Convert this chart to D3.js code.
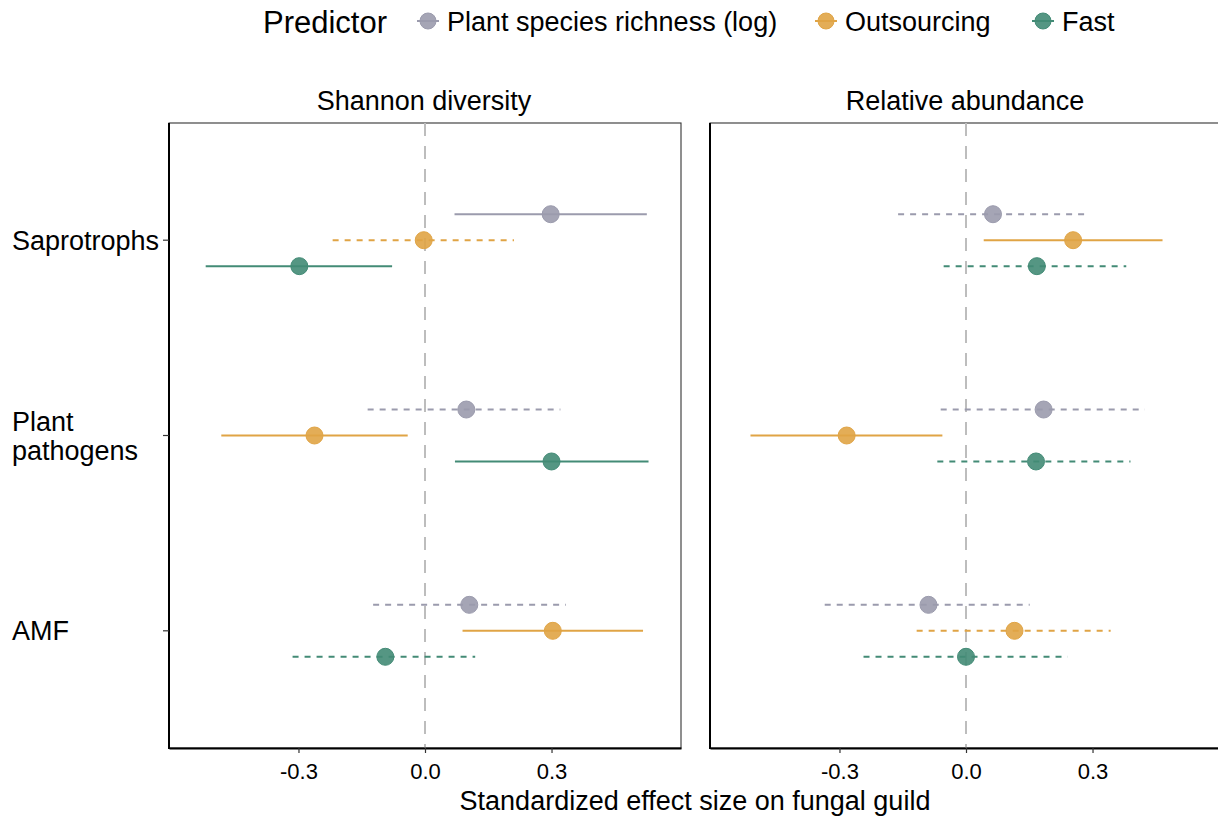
<!DOCTYPE html>
<html>
<head>
<meta charset="utf-8">
<script src="https://cdn.jsdelivr.net/npm/d3@7"></script>
<style>
  body { margin: 0; background: #fff; }
  text { font-family: "Liberation Sans", Arial, sans-serif; fill: #000; }
</style>
</head>
<body>
<script>
// data
var guilds = ["Saprotrophs", "Plant pathogens", "AMF"];
var predictors = ["Plant species richness (log)", "Outsourcing", "Fast"];
var facets = ["Shannon diversity", "Relative abundance"];
var colors = ["#9b9bad", "#e0a445", "#438b76"];
var xTicks = [-0.3, 0.0, 0.3];

// rows = guild, cols = predictor
var shannonEst = [[0.298, -0.003, -0.298], [0.098, -0.262, 0.300], [0.105, 0.303, -0.094]];
var shannonLo  = [[0.070, -0.219, -0.520], [-0.136, -0.483, 0.071], [-0.123, 0.089, -0.314]];
var shannonHi  = [[0.526, 0.211, -0.078], [0.321, -0.041, 0.530], [0.334, 0.517, 0.119]];
var shannonSig = [[1, 0, 1], [0, 1, 1], [0, 1, 0]];

var abundEst = [[0.064, 0.254, 0.168], [0.184, -0.283, 0.166], [-0.089, 0.115, 0.000]];
var abundLo  = [[-0.161, 0.042, -0.053], [-0.060, -0.511, -0.068], [-0.335, -0.117, -0.243]];
var abundHi  = [[0.287, 0.466, 0.380], [0.424, -0.056, 0.390], [0.151, 0.343, 0.241]];
var abundSig = [[0, 1, 0], [0, 1, 0], [0, 0, 0]];

var svgWidth = 1218;
var svgHeight = 818;
var plotTop = 123, plotBottom = 748;
var panelW = 512;
var panelX = [169, 710];

var svg = d3.select("body")
    .append("svg")
    .attr("width", svgWidth)
    .attr("height", svgHeight);

// y scale shared by both panels
var yScale = d3.scalePoint()
    .domain(guilds)
    .range([plotTop, plotBottom])
    .padding(0.6);
var dodge = yScale.step() * 0.133;
var yDodge = d3.scalePoint()
    .domain(predictors)
    .range([-dodge, dodge]);

function buildRows(est, lo, hi, sig) {
    var rows = [];
    guilds.forEach(function(g, i) {
        predictors.forEach(function(p, j) {
            rows.push({ guild: g, pred: p, k: j, est: est[i][j], lo: lo[i][j], hi: hi[i][j], sig: sig[i][j] });
        });
    });
    return rows;
}

var panelData = [
    buildRows(shannonEst, shannonLo, shannonHi, shannonSig),
    buildRows(abundEst, abundLo, abundHi, abundSig)
];

facets.forEach(function(title, f) {
    var x0 = panelX[f];
    var xScale = d3.scaleLinear()
        .domain([-0.607, 0.607])
        .range([x0, x0 + panelW]);

    var g = svg.append("g").attr("class", "panel");

    // panel border
    g.append("rect")
        .attr("x", x0).attr("y", plotTop)
        .attr("width", panelW).attr("height", plotBottom - plotTop)
        .attr("fill", "none")
        .attr("stroke", "#333")
        .attr("stroke-width", 1.1);

    // zero line
    g.append("line")
        .attr("x1", xScale(0)).attr("x2", xScale(0))
        .attr("y1", plotTop).attr("y2", plotBottom)
        .attr("stroke", "#bdbdbd")
        .attr("stroke-width", 2)
        .attr("stroke-dasharray", "13,10");

    // x axis
    var xAxis = d3.axisBottom(xScale)
        .tickValues(xTicks)
        .tickSize(5)
        .tickSizeOuter(0);
    var ax = g.append("g")
        .attr("class", "x-axis")
        .attr("transform", `translate(0,${plotBottom})`)
        .call(xAxis);
    ax.select(".domain").attr("stroke", "#000").attr("stroke-width", 2);
    ax.selectAll(".tick line").attr("stroke", "#333").attr("stroke-width", 1.2);
    ax.selectAll(".tick text")
        .attr("font-size", 22)
        .attr("dy", "1.05em")
        .attr("fill", "#1a1a1a")
        .text(function(d) { return d3.format(".1f")(d).replace("−", "-"); });

    // left axis line
    g.append("line")
        .attr("x1", x0).attr("x2", x0)
        .attr("y1", plotTop).attr("y2", plotBottom + 1)
        .attr("stroke", "#000")
        .attr("stroke-width", 2);

    // facet title
    g.append("text")
        .attr("x", x0 + panelW / 2 - 1)
        .attr("y", 110)
        .attr("text-anchor", "middle")
        .attr("font-size", 27)
        .attr("fill", "#1a1a1a")
        .text(title);

    // error bars
    g.selectAll(".ci")
        .data(panelData[f])
        .enter()
        .append("line")
        .attr("class", "ci")
        .attr("x1", function(d) { return xScale(d.lo); })
        .attr("x2", function(d) { return xScale(d.hi); })
        .attr("y1", function(d) { return yScale(d.guild) + yDodge(d.pred); })
        .attr("y2", function(d) { return yScale(d.guild) + yDodge(d.pred); })
        .attr("stroke", function(d) { return colors[d.k]; })
        .attr("stroke-width", 2)
        .attr("stroke-dasharray", function(d) { return d.sig ? null : "6,6"; });

    // points
    g.selectAll(".pt")
        .data(panelData[f])
        .enter()
        .append("circle")
        .attr("class", "pt")
        .attr("cx", function(d) { return xScale(d.est); })
        .attr("cy", function(d) { return yScale(d.guild) + yDodge(d.pred); })
        .attr("r", 8.5)
        .attr("fill", function(d) { return colors[d.k]; })
        .attr("fill-opacity", 0.9)
        .attr("stroke", function(d) { return colors[d.k]; })
        .attr("stroke-width", 1);
});

// y axis ticks and labels (left panel only)
var yAxisG = svg.append("g").attr("class", "y-axis");
yAxisG.selectAll("line")
    .data(guilds)
    .enter()
    .append("line")
    .attr("x1", panelX[0] - 6).attr("x2", panelX[0])
    .attr("y1", function(d) { return yScale(d); })
    .attr("y2", function(d) { return yScale(d); })
    .attr("stroke", "#333")
    .attr("stroke-width", 1.2);

yAxisG.selectAll("text")
    .data(guilds)
    .enter()
    .append("text")
    .attr("x", 12)
    .attr("y", function(d) { return yScale(d); })
    .attr("font-size", 27)
    .attr("fill", "#1a1a1a")
    .each(function(d) {
        var words = d === "Plant pathogens" ? ["Plant", "pathogens"] : [d];
        var t = d3.select(this);
        words.forEach(function(w, i) {
            t.append("tspan")
                .attr("x", 12)
                .attr("dy", i === 0 ? (words.length > 1 ? "-0.17em" : "0.35em") : "1.08em")
                .text(w);
        });
    });

// x axis title
svg.append("text")
    .attr("x", 695)
    .attr("y", 810)
    .attr("text-anchor", "middle")
    .attr("font-size", 27)
    .attr("fill", "#1a1a1a")
    .text("Standardized effect size on fungal guild");

// legend
var legend = svg.append("g").attr("class", "legend");
legend.append("text")
    .attr("x", 263)
    .attr("y", 33)
    .attr("font-size", 31)
    .text("Predictor");

var keyX = [428, 826, 1043];
predictors.forEach(function(p, i) {
    var k = legend.append("g").attr("transform", `translate(${keyX[i]},21)`);
    k.append("line")
        .attr("x1", -11).attr("x2", 11)
        .attr("stroke", colors[i])
        .attr("stroke-width", 2);
    k.append("circle")
        .attr("r", 8)
        .attr("fill", colors[i])
        .attr("fill-opacity", 0.9)
        .attr("stroke", colors[i]);
    k.append("text")
        .attr("x", 19)
        .attr("y", 10)
        .attr("font-size", 27)
        .attr("fill", "#1a1a1a")
        .text(p);
});
</script>
</body>
</html>
